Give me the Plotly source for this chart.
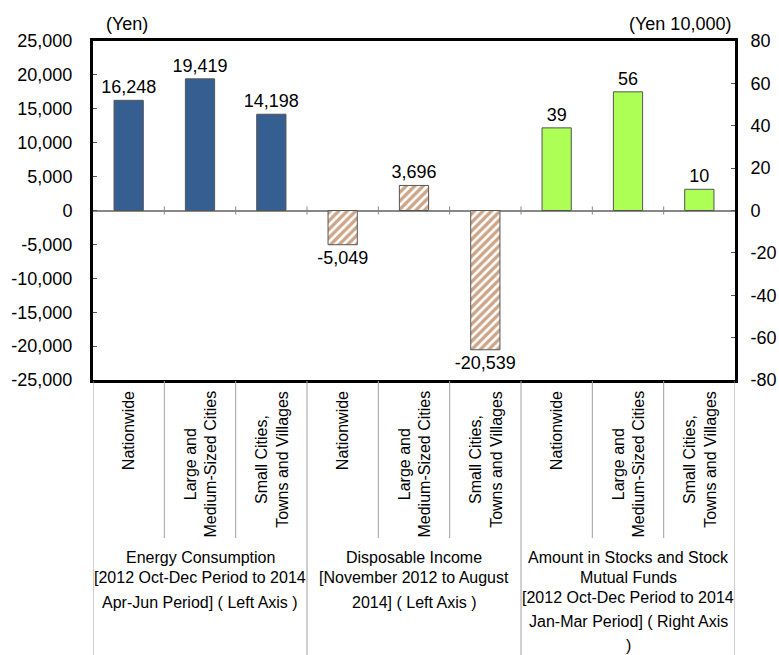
import plotly.graph_objects as go

categories = ["Nationwide", "Large and<br>Medium-Sized Cities", "Small Cities,<br>Towns and Villages"] * 3
energy = [16248, 19419, 14198]
income = [-5049, 3696, -20539]
stocks = [39, 56, 10]
left_ticks = list(range(-25000, 25001, 5000))
right_ticks = list(range(-80, 81, 20))
group_lines = [
    ["Energy Consumption", "[2012 Oct-Dec Period to 2014", "Apr-Jun Period] ( Left Axis )"],
    ["Disposable Income", "[November 2012 to August", "2014] ( Left Axis )"],
    ["Amount in Stocks and Stock", "Mutual Funds", "[2012 Oct-Dec Period to 2014",
     "Jan-Mar Period] ( Right Axis", ")"],
]
group_line_y = [
    [557, 577, 602],
    [557, 577, 602],
    [557, 577, 597, 621, 645],
]

W, H = 779, 655
ML, MR, MT, MB = 93, 44, 41, 275
PH = H - MT - MB
PW = W - ML - MR
FONT = "Liberation Sans, Arial, sans-serif"


def py(px):
    return (H - MB - px) / PH


def px_x(px):
    return (px - ML) / PW


fig = go.Figure()
BW = 0.41
common = dict(width=BW, textposition="outside", constraintext="none", cliponaxis=False,
              textfont=dict(size=18, color="black", family=FONT))
fig.add_trace(go.Bar(
    x=[0, 1, 2], y=energy,
    marker=dict(color="#355E91", line=dict(color="#555555", width=1)),
    text=[f"{v:,}" for v in energy], **common,
))
fig.add_trace(go.Bar(
    x=[3, 4, 5], y=income,
    marker=dict(color="white", line=dict(color="#555555", width=1),
                pattern=dict(shape="/", fgcolor="#9A4A10", bgcolor="white",
                             size=6, solidity=0.55)),
    text=[f"{v:,}" for v in income], **common,
))
fig.add_trace(go.Bar(
    x=[6, 7, 8], y=stocks, yaxis="y2",
    marker=dict(color="#ADFF55", line=dict(color="#555555", width=1)),
    text=[f"{v:,}" for v in stocks], **common,
))

shapes = []
# small ticks on the zero line at category boundaries
for b in range(1, 9):
    shapes.append(dict(type="line", xref="x", yref="y", x0=b - 0.5, x1=b - 0.5,
                       y0=-600, y1=600, line=dict(color="#888888", width=1)))
# separators below the plot
for b in range(0, 10):
    bottom = 655 if b % 3 == 0 else 538
    shapes.append(dict(type="line", xref="x", yref="paper", x0=b - 0.5, x1=b - 0.5,
                       y0=py(381), y1=py(bottom), line=dict(color="#A0A0A0", width=1)))

annotations = []
for i, c in enumerate(categories):
    annotations.append(dict(x=i, y=py(389), xref="x", yref="paper", text=c,
                            textangle=-90, showarrow=False, xanchor="center",
                            yanchor="top", align="center",
                            font=dict(size=16, color="black", family=FONT)))
for g, (lines, ys) in enumerate(zip(group_lines, group_line_y)):
    for t, yy in zip(lines, ys):
        annotations.append(dict(x=g * 3 + 1, y=py(yy), xref="x", yref="paper", text=t,
                                showarrow=False, xanchor="center", yanchor="middle",
                                font=dict(size=16, color="black", family=FONT)))
annotations.append(dict(x=px_x(127), y=py(24), xref="paper", yref="paper",
                        text="(Yen)", showarrow=False, xanchor="center",
                        yanchor="middle", font=dict(size=18, color="black", family=FONT)))
annotations.append(dict(x=px_x(733), y=py(24), xref="paper", yref="paper",
                        text="(Yen 10,000)", showarrow=False, xanchor="right",
                        yanchor="middle", font=dict(size=18, color="black", family=FONT)))

fig.update_layout(
    width=W, height=H, autosize=False,
    margin=dict(l=ML, r=MR, t=MT, b=MB, pad=0),
    paper_bgcolor="white", plot_bgcolor="white",
    barmode="overlay", showlegend=False,
    font=dict(family=FONT, color="black"),
    xaxis=dict(range=[-0.5, 8.5], showticklabels=False, ticks="", showgrid=False,
               zeroline=False, showline=True, linecolor="black", linewidth=3, mirror=True,
               automargin=False),
    yaxis=dict(range=[-25000, 25000], tickvals=left_ticks,
               ticktext=[f"{v:,}" for v in left_ticks],
               ticks="inside", ticklen=4, tickcolor="#555555", showgrid=False,
               zeroline=True, zerolinecolor="#888888", zerolinewidth=2,
               showline=True, linecolor="black", linewidth=3, mirror=True,
               automargin=False,
               tickfont=dict(size=18, color="black", family=FONT), ticklabelstandoff=14),
    yaxis2=dict(range=[-80, 80], tickvals=right_ticks,
                ticktext=[f"{v}" for v in right_ticks], overlaying="y", side="right",
                ticks="inside", ticklen=4, tickcolor="#555555", showgrid=False,
                zeroline=False, showline=True, linecolor="black", linewidth=3,
                automargin=False,
                tickfont=dict(size=18, color="black", family=FONT), ticklabelstandoff=9),
    shapes=shapes, annotations=annotations,
)

fig.write_html("out.html")
